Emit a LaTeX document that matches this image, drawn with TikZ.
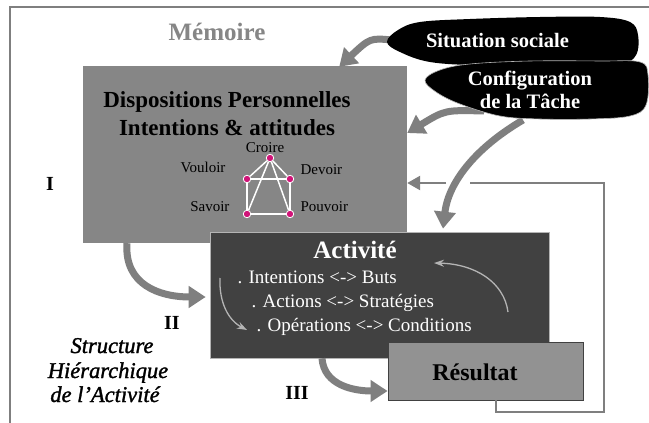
\documentclass[tikz,border=0pt]{standalone}
\usepackage{fontspec}
\setmainfont{Liberation Serif}
\newfontface\strfont[FakeBold=1.4,Ligatures=TeX]{Liberation Serif Italic}
\usetikzlibrary{arrows.meta}

\definecolor{memgray}{HTML}{868686}
\definecolor{actgray}{HTML}{414141}
\definecolor{resgray}{HTML}{929292}
\definecolor{arrowgray}{HTML}{7F7F7F}
\definecolor{thingray}{HTML}{B4B4B4}
\definecolor{dotpink}{HTML}{D01478}

\begin{document}
\begin{tikzpicture}[x=1pt,y=-1pt,
   bigarrow/.style={draw=arrowgray,line width=7pt,-{Triangle[length=17pt,width=21pt]}},
   thinarrow/.style={draw=thingray,line width=1.3pt,-{Stealth[length=10pt,width=7pt]}},
   dot/.style={circle,fill=dotpink,draw=white,line width=0.8pt,inner sep=0pt,minimum size=7.5pt},
   small/.style={font=\fontsize{15}{18}\selectfont},
   inner/.style={text=white,font=\fontsize{19}{22}\selectfont,anchor=base west},
   title/.style={font=\bfseries\fontsize{23}{28}\selectfont,anchor=base}]
   \useasboundingbox (0,0) rectangle (649,423);
   \fill[white] (0,0) rectangle (649,423);
   \draw[arrowgray,line width=1.5pt] (10,423) -- (10,7) -- (649,7);

   % boxes
   \node[fill=memgray,minimum width=324pt,minimum height=177pt,inner sep=0pt] (mem) at (245,154.5) {};
   \node[fill=actgray,draw=thingray,line width=0.6pt,minimum width=339pt,minimum height=126pt,inner sep=0pt] (act) at (379.5,295) {};
   \node[fill=resgray,draw=actgray,line width=0.8pt,minimum width=195pt,minimum height=58pt,inner sep=0pt] (res) at (485.5,371) {};

   % feedback loop
   \coordinate (fb1) at (496,412);
   \coordinate (fb2) at (604,412);
   \coordinate (fb3) at (604,183);
   \coordinate (fb4) at (470,183);
   \coordinate (fb5) at (446,183);
   \draw[arrowgray,line width=2.5pt] ([xshift=10.5pt]res.south) -- (fb1) -- (fb2) -- (fb3) -- (fb4);
   \draw[arrowgray,line width=2.5pt,-{Triangle[length=13pt,width=14pt]}] (fb5) -- ([yshift=-28.5pt]mem.east);

   % clouds' anchors
   \coordinate (sitA) at (392,40);
   \coordinate (cfgA) at (484,111);
   \coordinate (cfgB) at (523,120);

   \draw[bigarrow] (sitA) .. controls (370,38) .. ([xshift=-68pt,yshift=-1pt]mem.north east);
   \draw[bigarrow] (cfgA) .. controls (445,110) .. ([yshift=21.5pt]mem.east);
   \draw[bigarrow] (cfgB) .. controls (472,150) and (448,185) .. ([xshift=63.5pt,yshift=3pt]act.north);
   \draw[bigarrow] ([xshift=-118pt]mem.south) .. controls (124,285) and (160,297) .. ([xshift=-4pt,yshift=-2pt]act.west);
   \draw[bigarrow] ([xshift=-57.5pt]act.south) .. controls (324,386) and (355,391) .. ([yshift=-20pt]res.west);

   % clouds
   \fill[black] plot[smooth cycle,tension=0.6] coordinates {(387,42) (398,30) (420,22) (470,19) (540,17)
      (600,17) (630,22) (638,35) (636,55) (620,63) (560,63) (480,65) (430,62) (400,52)};
   \filldraw[fill=black,draw=thingray,line width=0.6pt] plot[smooth cycle,tension=0.6] coordinates {(425,80)
      (440,70) (470,64) (530,61) (600,61) (640,62) (648,75) (646,105) (630,116) (590,119) (540,119)
      (500,116) (460,104) (436,92)};

   % texts
   \node[title,text=memgray,font=\bfseries\fontsize{25}{28}\selectfont] (memt) at (217,40.5) {Mémoire};
   \node[title] (disp1) at (227,107) {Dispositions Personnelles};
   \node[title] (disp2) at (227,135.5) {Intentions \& attitudes};
   \node[title,text=white,font=\bfseries\fontsize{25}{28}\selectfont] (actt) at (355,258) {Activité};
   \node[title,font=\bfseries\fontsize{24}{28}\selectfont] (rest) at (475,380) {Résultat};
   \node[font=\bfseries\fontsize{20.5}{24}\selectfont,text=white,anchor=base] (sit) at (497.5,47) {Situation sociale};
   \node[font=\bfseries\fontsize{20.5}{24}\selectfont,text=white,anchor=base] (cfg1) at (530,85) {Configuration};
   \node[font=\bfseries\fontsize{20.5}{24}\selectfont,text=white,anchor=base] (cfg2) at (530,108) {de la Tâche};
   \node[font=\bfseries\fontsize{20}{24}\selectfont,anchor=base] (lvl1) at (50,190.5) {I};
   \node[font=\bfseries\fontsize{20}{24}\selectfont,anchor=base] (lvl2) at (172,329) {II};
   \node[font=\bfseries\fontsize{20}{24}\selectfont,anchor=base] (lvl3) at (297,399) {III};
   \node[font=\strfont\fontsize{22.5}{24}\selectfont,anchor=base] (str1) at (112,353) {Structure};
   \node[font=\strfont\fontsize{22.5}{24}\selectfont,anchor=base] (str2) at (108,378) {Hiérarchique};
   \node[font=\strfont\fontsize{22.5}{24}\selectfont,anchor=base] (str3) at (105,402) {de l'Activité};

   \node[inner] (ib1) at (234,283) {. Intentions <-> Buts};
   \node[inner] (ib2) at (248,307) {. Actions <-> Stratégies};
   \node[inner] (ib3) at (253,331) {. Opérations <-> Conditions};

   \coordinate (down1) at (220,278);
   \coordinate (down2) at (247,330);
   \coordinate (up1) at (508,312);
   \coordinate (up2) at (434,263);
   \draw[thinarrow] (down1) .. controls (219,302) and (228,320) .. (down2);
   \draw[thinarrow] (up1) .. controls (504,282) and (475,264) .. (up2);

   % modalities
   \node[dot] (croire) at (270,158) {};
   \node[dot] (vouloir) at (247,179) {};
   \node[dot] (devoir) at (290,179) {};
   \node[dot] (savoir) at (247,214) {};
   \node[dot] (pouvoir) at (290,214) {};
   \node[small,anchor=base] at (265,152.3) {Croire};
   \node[small,anchor=base east] at (229,172.3) {Vouloir};
   \node[small,anchor=base west] at (297,174.3) {Devoir};
   \node[small,anchor=base east] at (233,211) {Savoir};
   \node[small,anchor=base west] at (297,211) {Pouvoir};

   \path[draw=white,line width=1.5pt] (croire) edge (vouloir) edge (devoir) edge (savoir) edge (pouvoir);
   \path[draw=white,line width=1.5pt] (vouloir) edge (devoir) edge (savoir);
   \path[draw=white,line width=1.5pt] (pouvoir) edge (devoir) edge (savoir);

\end{tikzpicture}
\end{document}
